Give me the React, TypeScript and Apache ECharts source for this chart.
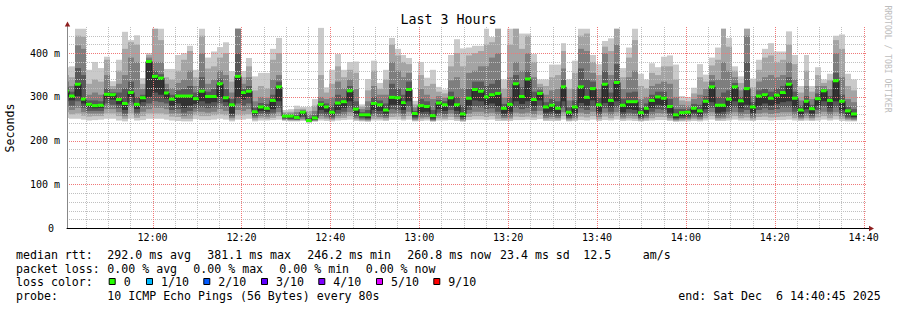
import React, { useEffect, useRef } from 'react';
import * as echarts from 'echarts';

// ---- time frame ----
const PLOT_START = '11:40:45';
const SPAN_SECONDS = 10800; // 3 hours
const STEP_SECONDS = 80;
const FIRST_STEP_END = 23; // seconds after plot start where the first full step begins
const MINOR_GRID_MIN = 5;
const MAJOR_GRID_MIN = 20;

// ---- per-step values (ms); sorted pings p1..p10, median = p6 ----
const median = [313,302,329,295,283,280,281,306,305,294,285,310,283,298,381,347,343,309,295,302,302,302,296,313,301,301,330,298,282,347,310,313,266,277,274,292,323,256,256,253,265,246,252,283,277,265,286,289,314,272,259,259,285,282,270,299,298,287,317,262,280,278,257,286,282,298,282,261,297,317,313,300,305,308,274,283,330,301,341,294,308,277,281,274,323,265,277,323,299,319,282,329,292,333,281,289,289,264,274,292,300,297,278,259,264,265,274,268,290,323,281,281,295,323,291,319,277,302,305,297,304,310,329,297,270,290,273,296,314,292,337,290,268,261];
const p10 = [368,370,456,456,362,380,366,392,336,385,449,430,441,343,400,456,456,364,364,396,400,417,362,456,390,404,414,425,359,456,359,389,347,355,355,410,435,270,272,280,277,277,295,458,322,362,398,362,380,381,283,341,383,332,362,435,410,396,389,291,380,344,362,323,317,396,432,411,413,417,417,456,437,456,340,456,456,445,445,398,340,340,374,374,423,340,383,456,456,396,375,428,434,456,366,413,456,353,340,377,368,392,395,374,302,300,321,375,351,390,413,456,435,370,347,456,342,385,410,423,404,404,450,396,325,396,325,368,340,353,440,443,353,340];
const p9 = [350,345,440,438,330,340,335,385,325,360,410,425,420,330,396,456,430,345,340,360,385,405,345,440,365,370,390,400,335,456,345,370,315,325,320,385,400,265,266,272,273,268,280,350,310,330,370,345,362,355,278,315,360,318,340,420,395,380,375,283,350,325,330,312,308,370,400,370,395,400,405,420,425,456,318,420,456,410,440,380,330,325,345,350,405,318,355,440,445,380,350,415,405,456,345,390,430,325,320,355,350,370,370,340,292,290,308,345,335,372,385,456,415,360,332,456,322,362,390,395,380,385,420,375,310,360,312,350,332,338,430,410,325,315];
const p8 = [335,325,418,410,305,310,305,350,318,330,350,390,380,318,390,380,380,330,320,332,340,360,325,400,330,340,360,350,310,456,330,345,290,300,298,340,350,262,262,265,270,260,268,300,295,300,335,320,340,318,272,290,325,305,305,380,360,345,355,276,318,305,295,302,298,338,345,320,355,360,370,370,390,400,298,345,380,360,400,345,322,305,315,318,365,292,318,410,405,355,318,400,350,420,318,345,360,295,300,325,330,335,330,300,282,280,295,305,318,350,340,380,360,345,315,440,302,335,345,350,345,350,380,340,292,325,295,325,325,318,400,345,295,288];
const p7 = [322,312,366,350,292,292,290,320,310,310,320,335,300,305,385,360,352,318,305,315,318,325,310,345,312,318,342,318,295,400,318,325,275,286,284,305,335,258,259,258,267,252,258,290,285,280,305,300,325,290,265,270,300,292,285,330,320,305,335,268,295,290,270,293,290,312,300,280,318,335,335,325,330,340,284,300,350,322,360,312,315,288,295,290,340,276,292,365,340,335,298,360,310,375,296,310,312,276,285,305,312,312,295,272,272,272,284,282,302,335,300,310,315,332,300,380,288,315,318,312,320,325,345,312,280,302,282,308,318,302,355,305,278,272];
const p5 = [300,292,302,285,276,274,275,296,294,283,270,300,272,288,300,310,305,296,280,285,275,280,284,290,285,288,300,288,262,300,294,300,260,268,266,272,290,252,251,250,258,245,249,270,265,258,270,275,290,262,254,252,270,268,262,282,282,270,290,255,265,266,251,272,268,280,268,254,280,292,290,282,285,278,262,266,290,284,290,278,292,264,266,262,290,256,264,286,280,292,266,286,276,290,265,272,270,256,262,275,282,280,264,252,256,257,264,258,272,288,264,266,276,290,274,282,264,280,285,280,284,288,290,276,260,272,262,280,290,275,290,270,258,254];
const p4 = [290,280,290,275,268,268,268,285,282,274,262,288,264,278,285,290,288,285,270,272,264,268,274,276,274,276,285,278,256,285,280,285,256,262,260,264,275,250,249,248,254,244,247,262,258,253,262,266,276,256,251,249,262,260,256,272,270,262,278,251,258,259,248,264,261,270,260,250,270,278,276,272,274,266,256,258,276,272,275,268,280,257,259,256,276,252,257,274,270,278,259,274,266,276,258,264,262,252,256,266,272,270,257,249,252,253,258,254,264,275,257,258,266,276,265,270,257,270,274,270,272,276,276,266,255,264,256,270,278,266,276,262,253,251];
const p3 = [278,270,275,265,262,262,262,272,272,265,256,276,258,266,272,275,275,272,262,262,256,258,266,266,264,266,272,268,252,270,268,272,252,256,255,258,265,248,247,247,250,243,246,256,253,250,256,258,265,251,248,247,256,254,252,262,262,256,266,248,253,254,246,257,255,262,254,247,262,266,266,262,264,258,252,253,264,262,264,260,268,252,254,252,265,249,252,264,261,266,254,264,258,265,253,257,256,249,252,258,263,262,252,247,249,250,253,250,257,265,252,253,258,265,257,261,252,262,264,261,263,265,265,258,251,257,252,261,266,258,265,256,250,248];
const p2 = [265,260,262,257,255,256,256,262,262,256,250,262,252,256,262,262,262,260,255,254,250,250,258,256,256,258,260,258,248,258,258,260,248,251,250,252,256,247,246,246,247,242,245,250,249,247,251,252,256,248,246,245,250,250,248,254,255,250,256,246,249,250,245,251,250,254,249,245,254,256,256,254,256,250,248,249,255,254,255,253,258,248,249,248,256,246,248,255,253,256,249,255,251,256,249,251,250,246,248,251,254,254,248,245,246,247,249,247,251,256,248,249,251,256,251,253,248,254,255,253,254,255,256,251,248,251,248,253,256,251,256,250,247,246];
const p1 = [252,250,250,248,246,247,248,250,250,246,244,250,246,247,250,250,250,248,246,245,244,244,249,247,247,248,250,248,244,248,248,250,244,246,246,247,248,245,244,244,245,241,243,246,245,244,246,247,248,245,244,243,246,246,245,248,248,246,248,244,245,246,243,246,246,247,245,243,247,248,248,247,248,245,245,245,247,247,248,247,249,245,245,245,248,244,245,247,246,248,245,247,246,248,245,246,245,244,245,246,247,247,245,243,244,244,245,244,246,248,245,245,246,248,246,246,245,247,247,246,247,247,248,246,245,246,245,246,248,246,248,245,244,244];

// ---- axis / legend texts ----
const Y_MAX = 460;
const Y_MINOR = 20;
const Y_MAJOR = 100;
const TITLE = 'Last 3 Hours';
const Y_NAME = 'Seconds';
const WATERMARK = 'RRDTOOL / TOBI OETIKER';
const statsLine1 = ['median rtt:', '292.0 ms avg', '381.1 ms max', '246.2 ms min', '260.8 ms now', '23.4 ms sd', '12.5', 'am/s'];
const statsLine2 = ['packet loss:', '0.00 % avg', '0.00 % max', '0.00 % min', '0.00 % now'];
const lossLabels = ['0', '1/10', '2/10', '3/10', '4/10', '5/10', '9/10'];
const lossColors = ['#26ff00', '#00b8ff', '#0059ff', '#5e00ff', '#7e00ff', '#dd00ff', '#ff0000'];
const probeText = '10 ICMP Echo Pings (56 Bytes) every 80s';
const endText = 'end: Sat Dec  6 14:40:45 2025';

const SMOKE = ['#cacaca', '#a4a4a4', '#7e7e7e', '#585858', '#323232'];
const MONO = "'DejaVu Sans Mono', monospace";
const GRID_GRAY = '#c0c0c0';
const GRID_RED = '#f07878';

function pad(n: number) { return (n < 10 ? '0' : '') + n; }

// vertical grid positions (seconds after plot start) with clock labels
function buildTimeGrid() {
  const [h, m, s] = PLOT_START.split(':').map(Number);
  const base = h * 3600 + m * 60 + s;
  const first = Math.ceil(base / (MINOR_GRID_MIN * 60)) * MINOR_GRID_MIN * 60;
  const out: { t: number; major: boolean; label: string }[] = [];
  for (let v = first; v <= base + SPAN_SECONDS; v += MINOR_GRID_MIN * 60) {
    const mm = Math.floor((v % 3600) / 60);
    out.push({ t: v - base, major: mm % MAJOR_GRID_MIN === 0, label: `${pad(Math.floor(v / 3600))}:${pad(mm)}` });
  }
  return out;
}

export default function App() {
  const ref = useRef<HTMLDivElement>(null);
  useEffect(() => {
    if (!ref.current) return;
    const chart = echarts.init(ref.current, null, { renderer: 'svg' });
    const timeGrid = buildTimeGrid();
    const majors = timeGrid.filter((g) => g.major);
    const minors = timeGrid.filter((g) => !g.major);
    const valueGrid: number[] = [];
    for (let v = Y_MINOR; v < Y_MAX; v += Y_MINOR) valueGrid.push(v);

    const stepStart = (k: number) => (k === 0 ? 0 : FIRST_STEP_END + STEP_SECONDS * (k - 1));
    const stepEnd = (k: number) => FIRST_STEP_END + STEP_SECONDS * k;
    const smokeData = median.map((m, k) => [stepStart(k), stepEnd(k), p1[k], p2[k], p3[k], p4[k], p5[k], m, p7[k], p8[k], p9[k], p10[k]]);
    const medData = median.map((m, k) => [stepStart(k), stepEnd(k), m, k > 0 ? median[k - 1] : m]);

    const legendY = [255, 268.5, 282.2, 296];
    const line1X = [16, 107.3, 207.3, 307.3, 407.3, 500, 583.3, 642.7];
    const line2X = [16, 107.3, 193.3, 279.3, 365.7];
    const boxX = [108.7, 146, 203.3, 261, 318.3, 376, 433.3];
    const graphics: any[] = [];
    const txt = (x: number, y: number, s: string, extra: any = {}) => ({
      type: 'text', x, y, silent: true,
      style: { text: s, fill: '#000', font: `11.6px ${MONO}`, verticalAlign: 'middle', ...extra },
    });
    statsLine1.forEach((s, i) => graphics.push(txt(line1X[i], legendY[0], s)));
    statsLine2.forEach((s, i) => graphics.push(txt(line2X[i], legendY[1], s)));
    graphics.push(txt(16, legendY[2], 'loss color:'));
    lossLabels.forEach((s, i) => {
      graphics.push({ type: 'rect', shape: { x: boxX[i] + 0.5, y: 278.5, width: 6, height: 6 }, style: { fill: lossColors[i], stroke: '#000', lineWidth: 1 } });
      graphics.push(txt(boxX[i] + 15, legendY[2], s));
    });
    graphics.push(txt(16, legendY[3], 'probe:'));
    graphics.push(txt(107.3, legendY[3], probeText));
    graphics.push(txt(678.3, legendY[3], endText));
    graphics.push({ type: 'text', x: 9.5, y: 128, rotation: Math.PI / 2, style: { text: Y_NAME, fill: '#000', font: `11.6px ${MONO}`, align: 'center', verticalAlign: 'middle' } });
    graphics.push({ type: 'text', x: 887.5, y: 59, rotation: -Math.PI / 2, style: { text: WATERMARK, fill: '#bdbdbd', font: `8.1px ${MONO}`, align: 'center', verticalAlign: 'middle' } });
    // axis extensions and arrows
    graphics.push({ type: 'line', shape: { x1: 867, y1: 228.5, x2: 870, y2: 228.5 }, style: { stroke: '#000', lineWidth: 1 }, z: 10 });
    graphics.push({ type: 'line', shape: { x1: 67.5, y1: 27, x2: 67.5, y2: 24 }, style: { stroke: '#888', lineWidth: 1 }, z: 10 });
    graphics.push({ type: 'polygon', shape: { points: [[869, 225.8], [869, 231.2], [874, 228.5]] }, style: { fill: '#8e1f1f' }, z: 10 });
    graphics.push({ type: 'polygon', shape: { points: [[64.8, 26.5], [70.2, 26.5], [67.5, 21.5]] }, style: { fill: '#8e1f1f' }, z: 10 });

    const vline = (color: string) => (_p: any, api: any) => {
      const t = api.value(0);
      const top = api.coord([t, Y_MAX]);
      const bot = api.coord([t, 0]);
      const x = Math.round(top[0]) + 0.5;
      return { type: 'line', shape: { x1: x, y1: Math.round(top[1]), x2: x, y2: Math.round(bot[1]) }, style: { stroke: color, lineWidth: 1, lineDash: [1, 1] } };
    };
    const hline = (_p: any, api: any) => {
      const v = api.value(0);
      const l = api.coord([0, v]);
      const r = api.coord([SPAN_SECONDS, v]);
      const y = Math.round(l[1]) + 0.5;
      const major = v % Y_MAJOR === 0;
      return { type: 'line', shape: { x1: Math.round(l[0]), y1: y, x2: Math.round(r[0]), y2: y }, style: { stroke: major ? GRID_RED : GRID_GRAY, lineWidth: 1, lineDash: [1, 1] } };
    };

    chart.setOption({
      animation: false,
      backgroundColor: '#fff',
      title: { text: TITLE, left: 'center', top: 13, padding: 0, textStyle: { fontFamily: MONO, fontSize: 13.3, fontWeight: 'normal', color: '#000' } },
      grid: { left: 67, right: 30, top: 27, bottom: 82, outerBoundsMode: 'none' },
      xAxis: {
        type: 'value', min: 0, max: SPAN_SECONDS, z: 6,
        axisLine: { show: true, onZero: false, lineStyle: { color: '#000', width: 1 } },
        axisTick: { show: false },
        axisLabel: { show: false },
        splitLine: { show: false },
      },
      yAxis: {
        type: 'value', min: 0, max: Y_MAX, interval: Y_MAJOR, z: 6,
        axisLine: { show: true, lineStyle: { color: '#888', width: 1 } },
        axisTick: { show: false },
        axisLabel: {
          showMaxLabel: false,
          formatter: (v: number) => (v === 0 ? '0\u00a0' : `${v} m`),
          margin: 7, fontFamily: MONO, fontSize: 10, color: '#000',
        },
        splitLine: { show: false },
      },
      series: [
        {
          type: 'custom', z: 2, silent: true,
          data: smokeData,
          renderItem: (_p: any, api: any) => {
            const x0 = api.value(0), x1 = api.value(1);
            const children: any[] = [];
            for (let i = 0; i < 5; i++) {
              const lo = api.value(2 + i);
              const hi = Math.max(api.value(11 - i), lo);
              const a = api.coord([x0, hi]);
              const b = api.coord([x1, lo]);
              const xa = Math.round(a[0]), xb = Math.round(b[0]);
              children.push({ type: 'rect', shape: { x: xa, y: a[1], width: xb - xa, height: b[1] - a[1] }, style: { fill: SMOKE[i] } });
            }
            return { type: 'group', children };
          },
        },
        { type: 'custom', z: 3, silent: true, data: valueGrid.map((v) => [v]), renderItem: hline },
        { type: 'custom', z: 3, silent: true, data: minors.map((g) => [g.t]), renderItem: vline(GRID_GRAY) },
        { type: 'custom', z: 3, silent: true, data: majors.map((g) => [g.t]), renderItem: vline(GRID_RED) },
        {
          type: 'custom', z: 5, silent: true, clip: false,
          data: majors.map((g) => [g.t, 0]),
          renderItem: (p: any, api: any) => {
            const pt = api.coord([api.value(0), 0]);
            return { type: 'text', x: pt[0], y: pt[1] + 4, style: { text: majors[p.dataIndex].label, fill: '#000', font: `10px ${MONO}`, align: 'center', verticalAlign: 'top' } };
          },
        },
        {
          type: 'custom', z: 4, silent: true,
          data: medData,
          renderItem: (_p: any, api: any) => {
            const x0 = api.value(0), x1 = api.value(1), m = api.value(2), prev = api.value(3);
            const a = api.coord([x0, m]);
            const b = api.coord([x1, m]);
            const pv = api.coord([x0, prev]);
            const xa = Math.round(a[0]), xb = Math.round(b[0]);
            return {
              type: 'group',
              children: [
                { type: 'line', shape: { x1: xa, y1: pv[1], x2: xa, y2: a[1] }, style: { stroke: '#202020', lineWidth: 1 } },
                { type: 'line', shape: { x1: xa, y1: a[1], x2: xb, y2: a[1] }, style: { stroke: '#202020', lineWidth: 1 } },
                { type: 'rect', shape: { x: xa, y: a[1] - 1.5, width: xb - xa, height: 3 }, style: { fill: lossColors[0] } },
              ],
            };
          },
        },
      ],
      graphic: graphics,
    });
    return () => chart.dispose();
  }, []);
  return <div ref={ref} style={{ position: 'fixed', left: 0, top: 0, width: 897, height: 310, background: '#fff' }} />;
}
